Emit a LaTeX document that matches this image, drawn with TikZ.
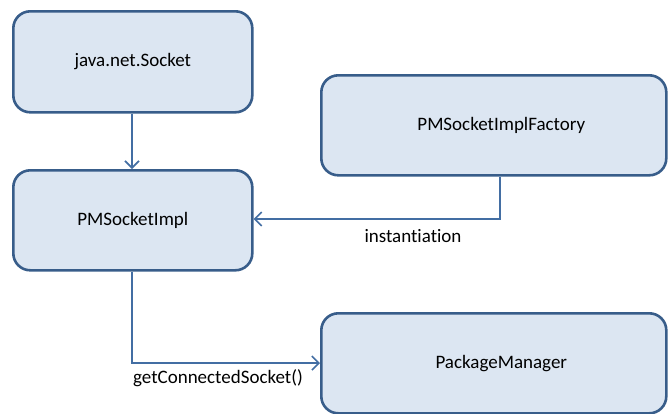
\documentclass[tikz,border=0pt]{standalone}
\usepackage{fontspec}
\setmainfont[Ligatures=NoCommon]{Carlito}
\usetikzlibrary{arrows.meta,positioning}
\definecolor{boxfill}{RGB}{220,230,242}
\definecolor{boxline}{RGB}{56,93,138}
\definecolor{linkline}{RGB}{67,110,163}
\tikzset{
  box/.style={draw=boxline, fill=boxfill, line width=2.6pt, rounded corners=17pt,
    font=\fontsize{19}{23}\selectfont, text=black, inner sep=0pt, anchor=north west},
  link/.style={draw=linkline, line width=1.8pt,
    -{Straight Barb[length=7pt,width=14pt,line width=1.6pt]}},
  linklabel/.style={font=\fontsize{19}{23}\selectfont, text=black, inner sep=0pt}
}
\begin{document}
\begin{tikzpicture}[x=1pt,y=-1pt]
  \useasboundingbox (0,0) rectangle (668,413);
  % class boxes
  \node[box, minimum width=239pt, minimum height=101pt] (sock) at (12,10) {java.net.Socket};
  \node[box, minimum width=239pt, minimum height=100pt] (impl) at (12,169) {PMSocketImpl};
  \node[box, minimum width=345pt, minimum height=100pt] (fac) at (320,74) {\hspace*{15pt}PMSocketImplFactory};
  \node[box, minimum width=345pt, minimum height=100pt] (pm) at (320,312) {\hspace*{15pt}PackageManager};
  % bend points of the elbow connectors
  \coordinate (facdown) at (500,219);
  \coordinate (impldown) at (132,363);
  % connectors
  \draw[link] (sock.south -| impldown) -- (impl.north -| impldown);
  \draw[link] (fac.south -| facdown) -- (facdown) -- (impl.east |- facdown);
  \draw[link] (impl.south -| impldown) -- (impldown) -- (pm.west |- impldown);
  % connector labels
  \node[linklabel] (instlbl) at (413,236) {instantiation};
  \node[linklabel] (getlbl) at (218,378) {getConnectedSocket()};
\end{tikzpicture}
\end{document}
